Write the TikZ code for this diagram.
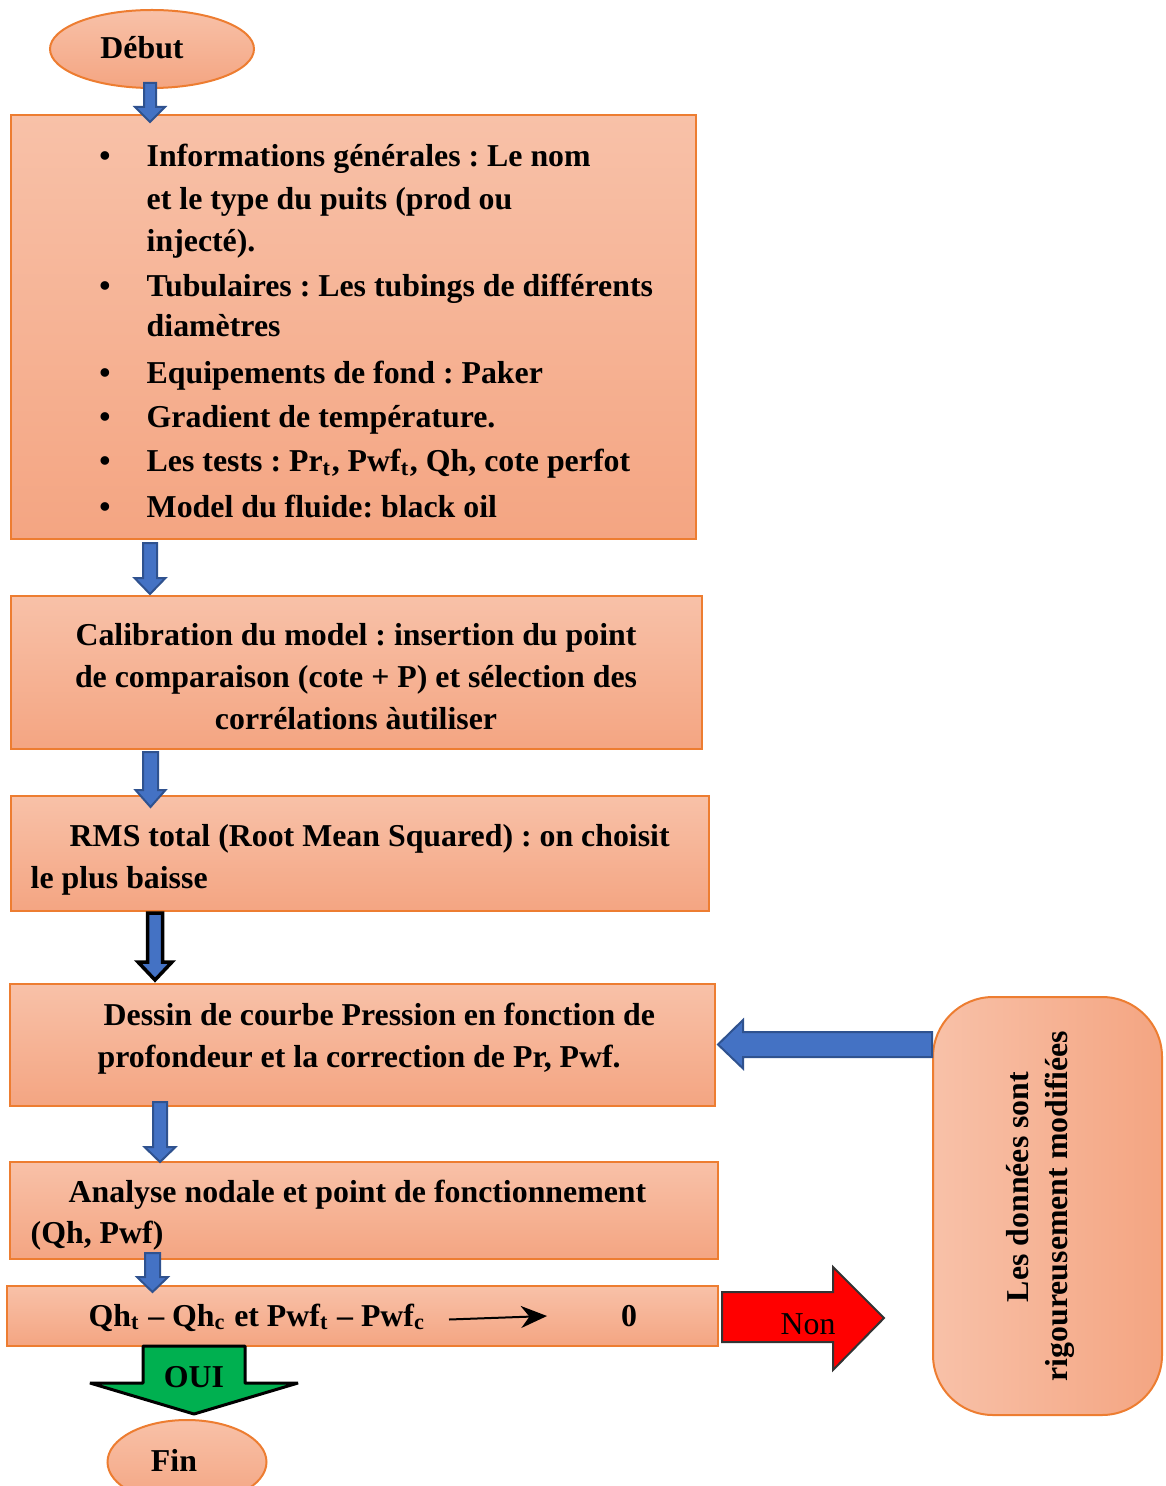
\documentclass[tikz,border=0pt]{standalone}
\usepackage{fontspec}
\setmainfont{Liberation Serif}
\usetikzlibrary{positioning, calc, fit, shapes.geometric, arrows.meta}

\definecolor{boxtop}{HTML}{F8C1A8}
\definecolor{boxbot}{HTML}{F4A582}
\definecolor{boxline}{HTML}{ED7D31}
\definecolor{arrblue}{HTML}{4472C4}
\definecolor{arrblueline}{HTML}{2F528F}
\definecolor{arrgreen}{HTML}{00B050}
\frenchspacing

% block arrow pointing down: [style]{from}{to}{shaft half}{head half}{head length}
\newcommand{\blkdown}[6][blk_blue]{%
  \draw[#1] ($(#2)+(-#4,0)$) -- ($(#3)+(-#4,-#6)$) -- ($(#3)+(-#5,-#6)$) -- (#3)
    -- ($(#3)+(#5,-#6)$) -- ($(#3)+(#4,-#6)$) -- ($(#2)+(#4,0)$) -- cycle;}

\begin{document}
\begin{tikzpicture}[
    x=0.1mm, y=-0.1mm,
    font=\fontsize{9.06}{12}\selectfont\bfseries,
    step_box/.style={rectangle, draw=boxline, line width=0.2mm, top color=boxtop, bottom color=boxbot, inner sep=0pt},
    end_node/.style={ellipse, draw=boxline, line width=0.2mm, top color=boxtop, bottom color=boxbot, inner sep=0pt},
    side_box/.style={rectangle, rounded corners=6mm, draw=boxline, line width=0.2mm, left color=boxtop, right color=boxbot, inner sep=0pt},
    txt_line/.style={anchor=base west, inner sep=0pt},
    txt_mid/.style={anchor=base, inner sep=0pt},
    blk_blue/.style={fill=arrblue, draw=arrblueline, line width=0.2mm},
    blk_dark/.style={fill=arrblue, draw=black, line width=0.35mm},
    blk_green/.style={fill=arrgreen, draw=black, line width=0.3mm, line join=bevel},
    blk_red/.style={fill=red, draw=black!80, line width=0.2mm}
  ]
  \useasboundingbox (0,0) rectangle (1165,1486);

  % start and end
  \node[end_node, minimum width=20.4mm, minimum height=7.8mm] (debut) at (152,49) {};
  \node[txt_mid] (debut_txt) at (142,59) {Début};
  \node[end_node, minimum width=15.9mm, minimum height=8.4mm] (fin) at (187,1462) {};
  \node[txt_mid] (fin_txt) at (174,1471) {Fin};

  % boxes
  \node[step_box, fit={(11,115) (696,539)}] (info) {};
  \node[step_box, fit={(11,596) (702,749)}] (calib) {};
  \node[step_box, fit={(11,796) (709,911)}] (rms) {};
  \node[step_box, fit={(10,984) (715,1106)}] (dessin) {};
  \node[step_box, fit={(10,1162) (718,1259)}] (nodal) {};
  \node[step_box, fit={(7,1286) (718,1346)}] (test) {};
  \node[side_box, fit={(933,997) (1162,1415)}] (modif) {};

  % general data
  \foreach \yy [count=\i] in {167, 297, 384, 428, 472, 518}
    \node[txt_mid] (b\i) at (105,\yy) {\textbullet};
  \foreach \yy/\txt [count=\i] in {
      167/{Informations générales : Le nom},
      210/{et le type du puits (prod ou},
      252/{injecté).},
      297/{Tubulaires : Les tubings de différents},
      337/{diamètres},
      384/{Equipements de fond : Paker},
      428/{Gradient de température.},
      472/{Les tests : Pr\textsubscript{t}, Pwf\textsubscript{t}, Qh, cote perfot},
      518/{Model du fluide: black oil}}
    \node[txt_line] (l\i) at (146,\yy) {\txt};

  % calibration
  \node[txt_mid] (c1) at (356,645) {Calibration du model : insertion du point};
  \node[txt_mid] (c2) at (356,687) {de comparaison (cote + P) et sélection des};
  \node[txt_mid] (c3) at (356,729) {corrélations àutiliser};

  \node[txt_line] (r1) at (69,846) {RMS total (Root Mean Squared) : on choisit};
  \node[txt_line] (r2) at (30,888) {le plus baisse};

  \node[txt_line] (d1) at (103,1025) {Dessin de courbe Pression en fonction de};
  \node[txt_line] (d2) at (97,1067) {profondeur et la correction de Pr, Pwf.};

  \node[txt_line] (n1) at (68,1202) {Analyse nodale et point de fonctionnement};
  \node[txt_line] (n2) at (30,1243) {(Qh, Pwf)};

  % convergence test
  \node[txt_line] (t1) at (88,1326) {Qh\textsubscript{t} -- Qh\textsubscript{c} et Pwf\textsubscript{t} -- Pwf\textsubscript{c}};
  \node[txt_mid] (t2) at (629,1326) {0};
  \coordinate (sa_s) at (449,1319.5);
  \coordinate (sa_e) at (547,1316);
  \draw[line width=0.2mm, -{Stealth[length=2.6mm, width=2.2mm]}] (sa_s) -- (sa_e);

  \node[txt_mid, rotate=90] (m1) at (1028,1187) {Les données sont};
  \node[txt_mid, rotate=90] (m2) at (1067,1206) {rigoureusement modifiées};

  % down arrows
  \coordinate (a1s) at (150,83);    \coordinate (a1e) at (150,122);
  \coordinate (a2s) at (150,543);   \coordinate (a2e) at (150,594);
  \coordinate (a3s) at (150.5,752); \coordinate (a3e) at (150.5,807);
  \coordinate (a4s) at (155,913);   \coordinate (a4e) at (155,980);
  \coordinate (a5s) at (160,1102);  \coordinate (a5e) at (160,1162);
  \coordinate (a6s) at (152.5,1253);\coordinate (a6e) at (152.5,1292);
  \blkdown{a1s}{a1e}{6}{15}{15}
  \blkdown{a2s}{a2e}{7}{15.5}{16}
  \blkdown{a3s}{a3e}{7.5}{15}{17}
  \blkdown[blk_dark]{a4s}{a4e}{7.5}{17}{18}
  \blkdown{a5s}{a5e}{7}{15.5}{15}
  \blkdown{a6s}{a6e}{7.5}{15.5}{15}

  % OUI
  \coordinate (oui_s) at (194,1346); \coordinate (oui_e) at (194,1414);
  \blkdown[blk_green]{oui_s}{oui_e}{51}{104}{31}
  \node[txt_mid] (oui) at (194,1387) {OUI};

  % Non
  \coordinate (non_s) at (722,1318); \coordinate (non_e) at (884,1318);
  \draw[blk_red] ($(non_s)+(0,-26)$) -- ($(non_e)+(-51,-26)$) -- ($(non_e)+(-51,-51)$) -- (non_e)
    -- ($(non_e)+(-51,52)$) -- ($(non_e)+(-51,24)$) -- ($(non_s)+(0,24)$) -- cycle;
  \node[txt_mid, font=\fontsize{9.06}{12}\selectfont] (non) at (808,1334) {Non};

  % back to the pressure curve
  \coordinate (back_s) at (932,1044.5); \coordinate (back_e) at (718,1044.5);
  \draw[blk_blue] ($(back_s)+(0,-12.5)$) -- ($(back_e)+(25,-12.5)$) -- ($(back_e)+(25,-24.5)$) -- (back_e)
    -- ($(back_e)+(25,24)$) -- ($(back_e)+(25,12.5)$) -- ($(back_s)+(0,12.5)$) -- cycle;
\end{tikzpicture}
\end{document}
